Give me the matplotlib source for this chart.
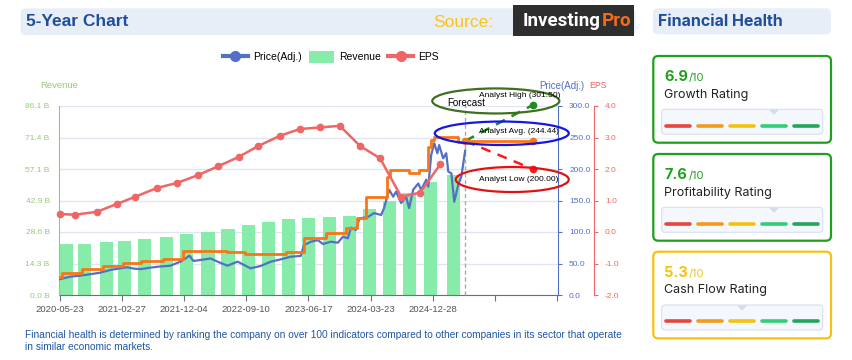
import matplotlib.pyplot as plt
from matplotlib.patches import FancyBboxPatch, Ellipse, Polygon, Patch, Rectangle
from matplotlib.lines import Line2D
import matplotlib.dates as mdates
import numpy as np
import pandas as pd

plt.rcParams['font.family'] = ['Liberation Sans', 'DejaVu Sans']

# ---- data ----
price_dates = ['2020-05-23', '2020-07-09', '2020-08-24', '2020-10-08', '2020-11-22', '2021-01-06',
               '2021-02-20', '2021-03-24', '2021-04-20', '2021-05-22', '2021-07-06', '2021-08-11',
               '2021-10-04', '2021-11-18', '2021-12-11', '2021-12-29', '2022-01-16', '2022-02-17',
               '2022-04-03', '2022-05-04', '2022-06-18', '2022-08-03', '2022-09-30', '2022-11-14',
               '2022-12-30', '2023-02-13', '2023-03-30', '2023-05-14', '2023-05-28', '2023-06-29',
               '2023-07-30', '2023-08-22', '2023-09-27', '2023-10-28', '2023-11-20', '2023-12-12',
               '2023-12-26', '2024-01-17', '2024-01-31', '2024-02-09', '2024-03-12', '2024-04-08',
               '2024-05-10', '2024-05-23', '2024-06-15', '2024-07-03', '2024-07-16', '2024-08-08',
               '2024-08-30', '2024-09-13', '2024-10-01', '2024-10-24', '2024-11-06', '2024-11-29',
               '2024-12-08', '2024-12-21', '2025-01-04', '2025-01-18', '2025-01-26', '2025-02-13',
               '2025-02-27', '2025-03-08', '2025-03-22', '2025-04-04', '2025-04-22', '2025-05-06',
               '2025-05-23']
price_vals = [25, 29, 30.7, 33, 35.4, 39.7, 42.3, 44, 42, 41, 43.4, 45,
              46.5, 52.9, 58, 62.4, 54, 55.6, 58, 53, 46.5, 53, 42.3, 46,
              52.9, 56.6, 60.8, 62, 79, 84.6, 87, 81, 84.6, 83, 92.6, 90,
              107, 103, 119, 122, 124, 130, 127, 138, 167, 156, 164, 146,
              156, 138, 167, 177, 167, 183, 172, 222, 241, 225, 238, 217,
              225, 196, 193, 148, 175, 188, 229]

target_dates = ['2020-05-23', '2020-06-03', '2020-09-02', '2020-12-05', '2021-03-06', '2021-05-26',
                '2021-09-02', '2021-12-02', '2022-03-07', '2022-06-14', '2022-09-03', '2022-12-03',
                '2023-03-07', '2023-05-28', '2023-09-04', '2023-12-03', '2024-01-22', '2024-03-03',
                '2024-06-06', '2024-06-19', '2024-09-13', '2024-10-28', '2024-12-08', '2024-12-21',
                '2025-01-04', '2025-04-22', '2025-05-23']
target_vals = [29, 34.4, 40.8, 46.5, 50.3, 54, 57, 69.5, 70.4, 67.7, 65, 65.5,
               68.8, 90, 98, 106, 122, 155, 188, 198, 194, 198, 235, 246,
               251, 243, 244.44]

rev_dates = ['2020-05-23', '2020-08-15', '2020-11-22', '2021-02-11', '2021-05-12', '2021-08-20',
             '2021-11-18', '2022-02-21', '2022-05-22', '2022-08-21', '2022-11-19', '2023-02-17',
             '2023-05-19', '2023-08-21', '2023-11-20', '2024-02-18', '2024-05-18', '2024-08-17',
             '2024-11-19', '2025-03-03']
revenue = [23.2, 23.2, 24.1, 24.6, 25.5, 26.4, 27.8, 28.7, 30.1, 31.9, 33.3, 34.6,
           35.1, 35.6, 36.0, 39.2, 42.8, 46.3, 51.6, 54.7]

eps_dates = ['2020-05-23', '2020-08-01', '2020-11-07', '2021-02-05', '2021-04-29', '2021-08-06',
             '2021-11-04', '2022-02-07', '2022-05-08', '2022-08-07', '2022-11-01', '2023-02-08',
             '2023-05-10', '2023-08-08', '2023-11-06', '2024-02-05', '2024-05-05', '2024-08-08',
             '2024-11-02', '2025-01-31']
eps = [0.57, 0.55, 0.64, 0.89, 1.12, 1.40, 1.56, 1.81, 2.09, 2.38, 2.72, 3.05,
       3.27, 3.32, 3.37, 2.73, 2.34, 1.12, 1.25, 2.15]

forecast_start = '2025-05-23'
forecast_end = '2026-03-23'
analyst_high = 301.50
analyst_avg = 244.44
analyst_low = 200.00

x_tick_dates = ['2020-05-23', '2021-02-27', '2021-12-04', '2022-09-10', '2023-06-17',
                '2024-03-23', '2024-12-28', '2025-10-04', '2026-07-11']
x_tick_labels = ['2020-05-23', '2021-02-27', '2021-12-04', '2022-09-10', '2023-06-17',
                 '2024-03-23', '2024-12-28', '', '']
rev_tick_labels = ['0.0 B', '14.3 B', '28.6 B', '42.9 B', '57.1 B', '71.4 B', '86.1 B']

rating_names = ['Growth Rating', 'Profitability Rating', 'Cash Flow Rating']
rating_scores = [6.9, 7.6, 5.3]

# ---- colours ----
c_price = '#5470c6'
c_rev = '#87eba9'
c_rev_txt = '#91cc75'
c_eps = '#ee6666'
c_target = '#fa7516'
c_head = '#1f4e9a'

fig = plt.figure(figsize=(8.53, 3.6), dpi=100)

# pixel-space background axes for panels and boxes
bg = fig.add_axes([0, 0, 1, 1], zorder=0)
bg.set_xlim(0, 853)
bg.set_ylim(360, 0)
bg.axis('off')

bg.add_patch(FancyBboxPatch((20.5, 8.3), 615, 26.7, boxstyle='round,pad=0,rounding_size=5',
                            fc='#e8eef7', ec='none'))
bg.text(26, 22, '5-Year Chart', fontsize=12.5, fontweight='bold', color=c_head, va='center')
bg.text(433, 22.5, 'Source:', fontsize=12.5, color='#f7c41c', va='center')
bg.add_patch(Rectangle((513, 5), 121, 31, fc='#2e2e2e', ec='none'))
bg.text(601, 20.5, 'Investing', fontsize=13.5, fontweight='bold', color='white', va='center',
        ha='right', family='Roboto')
bg.text(602, 20.5, 'Pro', fontsize=13.5, fontweight='bold', color='#f26b1d', va='center',
        ha='left', family='Roboto')

bg.text(40, 86, 'Revenue', fontsize=6.8, color=c_rev_txt, va='center')
bg.text(539.5, 86, 'Price(Adj.)', fontsize=7, color=c_price, va='center')
bg.text(589.5, 86, 'EPS', fontsize=6.3, color=c_eps, va='center')

bg.text(24.6, 335, 'Financial health is determined by ranking the company on over 100 indicators '
        'compared to other companies in its sector that operate', fontsize=7.3,
        color='#1f56a8', va='center')
bg.text(24.6, 346.7, 'in similar economic markets.', fontsize=7.3, color='#1f56a8', va='center')

# right panel
bg.add_patch(FancyBboxPatch((653, 8.3), 178, 26, boxstyle='round,pad=0,rounding_size=5',
                            fc='#e8eef7', ec='none'))
bg.text(658.5, 21.5, 'Financial Health', fontsize=11.5, fontweight='bold', color=c_head,
        va='center', family='Inter')

seg_cols = ['#e8453c', '#f29a1c', '#f4c20d', '#33cc77', '#22a65a']
card_tops = [56, 154, 251.7]
for name, score, top in zip(rating_names, rating_scores, card_tops):
    col = '#1ea01e' if score >= 6 else '#f5c211'
    bg.add_patch(FancyBboxPatch((653.3, top), 177.7, 86.7, boxstyle='round,pad=0,rounding_size=5',
                                fc='white', ec=col, lw=1.6))
    bg.text(664.5, top + 25, f'{score:.1f}', fontsize=10.5, fontweight='bold', color=col,
            va='baseline', family='Inter')
    bg.text(688.5, top + 25, '/10', fontsize=8, color=col, va='baseline', family='Inter')
    bg.text(664.5, top + 41.7, name, fontsize=9, color='#222222', va='baseline', family='Inter')
    gy = top + 53.3
    bg.add_patch(FancyBboxPatch((661.7, gy), 161, 25, boxstyle='round,pad=0,rounding_size=3',
                                fc='#f4f7fb', ec='#d6e0ee', lw=0.8))
    for i, sc in enumerate(seg_cols):
        x0 = 666 + i * 31.9
        bg.plot([x0, x0 + 24.5], [gy + 16.4, gy + 16.4], color=sc, lw=2.6,
                solid_capstyle='round')
    k = min(int(score // 2), 4)
    cx = 666 + k * 31.9 + 12.25
    bg.add_patch(Polygon([(cx - 5, gy + 0.5), (cx + 5, gy + 0.5), (cx, gy + 5.5)],
                         closed=True, fc='#d3ddeb', ec='none'))

# ---- main chart ----
ax = fig.add_axes([59.5 / 853, 1 - 295 / 360, (558 - 59.5) / 853, (295 - 106) / 360], zorder=1)
ax.patch.set_alpha(0)
ax2 = ax.twinx()
ax3 = ax.twinx()
ax2.set_zorder(2)
ax3.set_zorder(3)
for a in (ax2, ax3):
    a.patch.set_visible(False)

ax.bar(pd.to_datetime(rev_dates), revenue, width=59, align='edge', color=c_rev, zorder=2)
ax.set_ylim(0, 86.1)
ax.set_yticks(np.linspace(0, 86.1, 7))
ax.set_yticklabels(rev_tick_labels)
ax.yaxis.grid(True, color='#e0e6f1', lw=1)
ax.set_axisbelow(True)

ax.set_xlim(pd.Timestamp('2020-05-23'), pd.Timestamp('2026-07-15'))
ax.set_xticks(pd.to_datetime(x_tick_dates))
ax.set_xticklabels(x_tick_labels)

ax2.plot(pd.to_datetime(price_dates), price_vals, color=c_price, lw=1.6, zorder=3)
ax2.plot(pd.to_datetime(target_dates), target_vals, color=c_target, lw=2, drawstyle='steps-post',
         zorder=4)

fs = pd.Timestamp(forecast_start)
fe = pd.Timestamp(forecast_end)
ax2.plot([fs, fe], [analyst_avg, analyst_high], color='#1e8c1e', lw=1.8, dashes=(4, 3),
         marker='o', ms=4.5, markevery=[1], clip_on=False, zorder=5)
ax2.plot([fs, fe], [analyst_avg, analyst_low], color='#ff1a1a', lw=1.8, dashes=(4, 3),
         marker='o', ms=4.5, markevery=[1], clip_on=False, zorder=5)
ax2.plot([fs, fe], [analyst_avg, analyst_avg], color=c_target, lw=2, marker='o', ms=4.5,
         clip_on=False, zorder=5)
ax2.vlines(fs, 0, 304, colors='#aaaaaa', linestyles=(0, (3, 2)), lw=1, clip_on=False, zorder=2)

fe_num = mdates.date2num(fe)
fs_num = mdates.date2num(fs)
ax2.add_patch(Ellipse((fe_num - 166, 308), 572, 39.7, fill=False, ec='#3f6f1f', lw=1.6,
                      clip_on=False, zorder=6))
ax2.add_patch(Ellipse((fe_num - 139, 256.7), 603, 37.3, fill=False, ec='#1515e6', lw=1.6,
                      clip_on=False, zorder=6))
ax2.add_patch(Ellipse((fe_num - 92, 183.3), 509, 39.7, fill=False, ec='#e31010', lw=1.6,
                      clip_on=False, zorder=6))
ax2.text(fe_num - 243, 316, f'Analyst High ({analyst_high:.2f})', fontsize=6, va='center',
         clip_on=False, zorder=7)
ax2.text(fe_num - 243, 259.2, f'Analyst Avg. ({analyst_avg:.2f})', fontsize=6, va='center',
         clip_on=False, zorder=7)
ax2.text(fe_num - 243, 183.7, f'Analyst Low ({analyst_low:.2f})', fontsize=6, va='center',
         clip_on=False, zorder=7)
ax2.text(fs_num - 80, 305.2, 'Forecast', fontsize=7, va='center', clip_on=False, zorder=7)

ax2.set_ylim(0, 300)
ax2.set_yticks(np.arange(0, 301, 50))
ax2.set_yticklabels([f'{v:.1f}' for v in np.arange(0, 301, 50)])

ax3.plot(pd.to_datetime(eps_dates), eps, color=c_eps, lw=1.8, marker='o', ms=4.5,
         clip_on=False, zorder=4)
ax3.set_ylim(-2, 4)
ax3.set_yticks(np.arange(-2, 4.1, 1))
ax3.set_yticklabels([f'{v:.1f}' for v in np.arange(-2, 4.1, 1)])

# spines and ticks
for s in ('top', 'right'):
    ax.spines[s].set_visible(False)
ax.spines['left'].set_color(c_rev_txt)
ax.spines['bottom'].set_color('#6e7079')
for a, c in ((ax2, c_price), (ax3, c_eps)):
    for s in ('top', 'left', 'bottom'):
        a.spines[s].set_visible(False)
    a.spines['right'].set_color(c)
    a.tick_params(axis='y', length=3, color=c, labelcolor=c, labelsize=6, pad=5)
ax3.spines['right'].set_position(('outward', 25.9))
ax.tick_params(axis='y', length=0, pad=7, labelsize=6, labelcolor=c_rev_txt)
ax.tick_params(axis='x', length=4, color='#6e7079', labelsize=6.8, labelcolor='#555555', pad=3)

# legend
handles = [Line2D([], [], color=c_price, lw=3, marker='o', ms=7),
           Patch(facecolor=c_rev, edgecolor='none'),
           Line2D([], [], color=c_eps, lw=3, marker='o', ms=7)]
fig.legend(handles, ['Price(Adj.)', 'Revenue', 'EPS'], loc='center',
           bbox_to_anchor=(331 / 853, 1 - 57 / 360), ncol=3, frameon=False, fontsize=7.5,
           handlelength=2.4, handletextpad=0.5, columnspacing=0.7, handleheight=1.4)

plt.savefig('out.png', dpi=100)
